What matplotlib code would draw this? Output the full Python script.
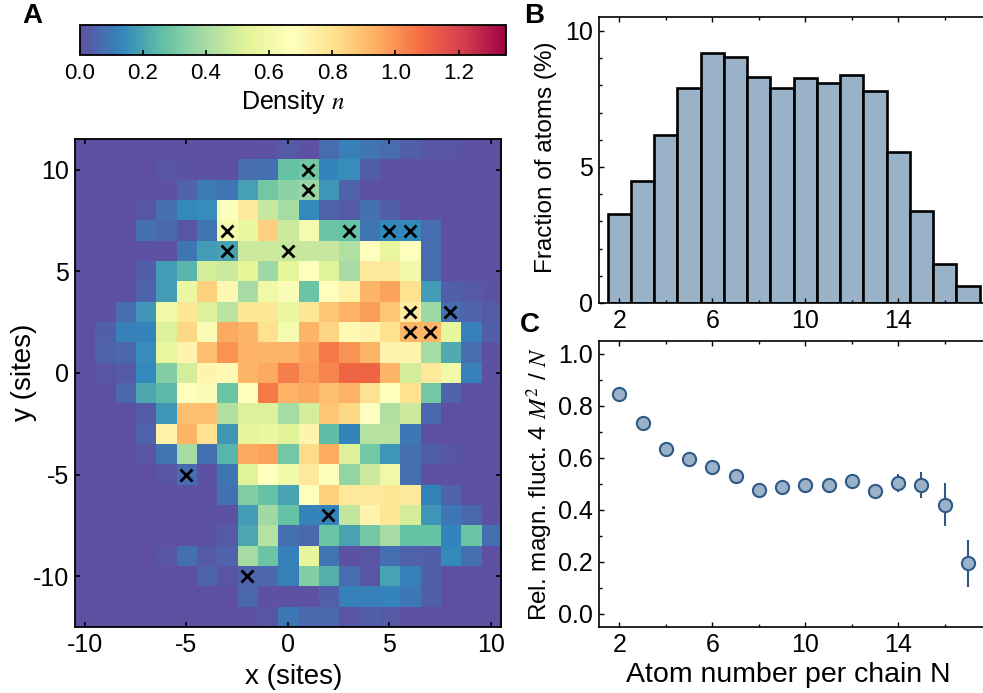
import numpy as np
import matplotlib
matplotlib.use("Agg")
import matplotlib.pyplot as plt
from matplotlib.ticker import MultipleLocator, FixedLocator

plt.rcParams['font.family'] = ['Liberation Sans', 'DejaVu Sans']
plt.rcParams['mathtext.fontset'] = 'stix'
plt.rcParams['axes.unicode_minus'] = False

# density per site, rows run from y=11 down to y=-12, columns x=-10..10
density = [
    [0, 0, 0, 0, 0, 0, 0, 0, 0, .01, .03, .01, .07, .12, .09, .07, .04, .02, .02, 0, 0],
    [0, 0, 0, 0, .02, .01, .01, .01, .07, .08, .27, .3, .13, .15, .04, .01, 0, 0, 0, 0, 0],
    [0, 0, 0, 0, .01, .05, .11, .09, .19, .3, .35, .37, .17, .05, .01, 0, 0, 0, 0, 0, 0],
    [0, 0, 0, .02, .08, .14, .15, .66, .77, .47, .4, .14, .05, .03, .08, .04, .01, .01, 0, 0, 0],
    [0, 0, 0, .08, .06, .02, .09, .62, .58, .85, .48, .62, .28, .27, .09, .14, .14, .07, 0, 0, 0],
    [0, 0, 0, .01, .01, .09, .18, .2, .48, .48, .47, .47, .47, .42, .68, .56, .68, .07, 0, 0, 0],
    [0, 0, 0, .04, .18, .24, .5, .48, .54, .38, .55, .68, .53, .4, .76, .77, .6, .07, 0, 0, 0],
    [0, 0, .01, .05, .18, .57, .85, .71, .4, .6, .65, .28, .68, .73, .92, .97, .8, .18, .04, .03, .01],
    [0, .01, .07, .17, .6, .78, .52, .44, .78, .78, .58, .78, .88, .93, .98, .88, .75, .38, .07, .05, .03],
    [0, .04, .12, .13, .52, .83, .64, .95, .92, .8, .62, .92, .84, .7, .72, .8, .92, .92, .55, .12, .04],
    [0, .05, .06, .15, .56, .72, .9, 1.0, .93, .92, .93, .97, 1.05, 1.0, .92, .72, .72, .4, .22, .07, .01],
    [0, .02, .03, .14, .33, .5, .72, .7, .92, .95, 1.04, .98, 1.03, 1.1, 1.1, .92, .5, .77, .6, .12, .01],
    [0, 0, .06, .21, .25, .68, .65, .28, .68, 1.05, .93, .95, .9, .93, .8, .68, .8, .3, .05, .01, 0],
    [0, 0, 0, .03, .17, .9, .9, .42, .52, .52, .4, .5, .88, .83, .67, .42, .48, .06, 0, 0, 0],
    [0, 0, 0, .05, .73, .93, .8, .17, .55, .58, .53, .72, .26, .13, .43, .43, .1, .01, 0, 0, 0],
    [0, 0, 0, .02, .09, .4, .08, .24, .95, .97, .3, .82, .94, .52, .3, .17, .08, .04, .02, 0, 0],
    [0, 0, 0, 0, .02, .07, .01, .09, .53, .68, .6, .77, .66, .36, .48, .6, .08, .01, .01, 0, 0],
    [0, 0, 0, 0, 0, .01, .01, .08, .33, .27, .2, .68, .85, .77, .77, .78, .77, .13, .05, 0, 0],
    [0, 0, 0, 0, 0, 0, .01, .01, .18, .39, .27, .13, .13, .46, .72, .78, .5, .17, .1, .06, .01],
    [0, 0, 0, 0, 0, 0, .01, .03, .21, .43, .08, .06, .28, .2, .3, .4, .27, .27, .13, .28, .08],
    [0, 0, 0, 0, .02, .08, .03, .05, .4, .28, .12, .55, .09, .01, .02, .08, .05, .04, .14, .08, 0],
    [0, 0, 0, 0, 0, 0, .05, .02, .05, .06, .12, .33, .23, .07, .02, .2, .12, .04, 0, 0, 0],
    [0, 0, 0, 0, 0, 0, 0, 0, .06, .01, .01, .01, .04, .12, .12, .13, .1, .04, 0, 0, 0],
    [0, 0, 0, 0, 0, 0, 0, 0, 0, .02, .1, .06, .06, .02, .04, .03, 0, 0, 0, 0, 0],
]
cross_x = [1, 1, -3, -3, 0, 3, 5, 6, 6, 8, 6, 7, -5, 2, -2]
cross_y = [10, 9, 7, 6, 6, 7, 7, 7, 3, 3, 2, 2, -5, -7, -10]

atoms = list(range(2, 18))
fraction = [3.28, 4.5, 6.17, 7.9, 9.19, 9.03, 8.32, 7.89, 8.27, 8.1, 8.38, 7.8, 5.55, 3.38, 1.45, 0.64]
fluct = [.846, .733, .635, .594, .565, .53, .476, .487, .495, .495, .51, .473, .504, .495, .42, .194]
fluct_err = [.004, .004, .004, .004, .004, .004, .004, .005, .005, .006, .008, .01, .035, .05, .082, .09]

W, H = 983, 693
BAR = '#9ab2c8'
DOT_EDGE = '#2f5a86'
FS = 18


def px_axes(left, top, right, bottom):
    return fig.add_axes([left / W, 1 - bottom / H, (right - left) / W, (bottom - top) / H])


def panel_letter(x, y, s):
    fig.text(x / W, 1 - y / H, s, fontsize=20, fontweight='bold', va='center', ha='left')


fig = plt.figure(figsize=(W / 100, H / 100), dpi=100)

# A: density map
ax = px_axes(74.5, 139, 501, 627)
im = ax.imshow(density, cmap='Spectral_r', vmin=0, vmax=1.35, interpolation='nearest',
               extent=[-10.5, 10.5, -12.5, 11.5], aspect='auto')
ax.plot(cross_x, cross_y, 'x', color='k', ms=9, mew=2)
ax.set_xticks([-10, -5, 0, 5, 10])
ax.set_yticks([-10, -5, 0, 5, 10])
ax.tick_params(direction='in', top=True, right=True, labelsize=FS, length=3.5, width=1.2, pad=4)
ax.set_xlabel('x (sites)', fontsize=20, labelpad=5)
ax.xaxis.label.set_x(0.5135)
ax.set_ylabel('y (sites)', fontsize=20, labelpad=-3)
ax.yaxis.label.set_y(0.5215)
for s in ax.spines.values():
    s.set_linewidth(1.3)

# colorbar
cax = px_axes(79.5, 25, 506, 54.5)
cb = fig.colorbar(im, cax=cax, orientation='horizontal')
cb.set_ticks([0, .2, .4, .6, .8, 1.0, 1.2])
cb.ax.tick_params(direction='in', labelsize=16, length=3.5, width=1.2, pad=6)
cb.set_label('Density $n$', fontsize=18, labelpad=3)
cb.outline.set_linewidth(1.3)

# B: histogram
bx = px_axes(598.5, 17, 983, 303)
bx.bar(atoms, fraction, width=1, color=BAR, edgecolor='k', linewidth=1.9)
bx.set_xlim(1.1, 17.65)
bx.set_ylim(0, 10.51)
bx.set_xticks([2, 6, 10, 14])
bx.xaxis.set_minor_locator(FixedLocator([4, 8, 12, 16]))
bx.set_yticks([0, 5, 10])
bx.yaxis.set_minor_locator(MultipleLocator(1))
bx.tick_params(which='both', direction='in', top=True, labelsize=FS, width=1)
bx.tick_params(which='major', length=3.5, pad=4)
bx.tick_params(which='minor', length=2)
bx.set_ylabel('Fraction of atoms (%)', fontsize=17.5, labelpad=6)
bx.yaxis.label.set_y(0.51)
bx.spines['right'].set_visible(False)
for k in ['left', 'top', 'bottom']:
    bx.spines[k].set_linewidth(1.2)

# C: fluctuations
ccx = px_axes(598.5, 341, 983, 627)
ccx.errorbar(atoms, fluct, yerr=fluct_err, fmt='o', ms=9.5, mfc=BAR, mec=DOT_EDGE, mew=1.5,
             ecolor=DOT_EDGE, elinewidth=1.5, capsize=0)
ccx.set_xlim(1.1, 17.65)
ccx.set_ylim(-0.051, 1.049)
ccx.set_xticks([2, 6, 10, 14])
ccx.xaxis.set_minor_locator(FixedLocator([4, 8, 12, 16]))
ccx.set_yticks([0, .2, .4, .6, .8, 1.0])
ccx.yaxis.set_minor_locator(MultipleLocator(.1))
ccx.tick_params(which='both', direction='in', top=True, labelsize=FS, width=1)
ccx.tick_params(which='major', length=3.5, pad=4)
ccx.tick_params(which='minor', length=2)
ccx.set_xlabel('Atom number per chain N', fontsize=20.5, labelpad=4)
ccx.xaxis.label.set_x(0.493)
ccx.set_ylabel('Rel. magn. fluct. 4 $M^2$ / $N$', fontsize=17.5, labelpad=2)
ccx.spines['right'].set_visible(False)
for k in ['left', 'top', 'bottom']:
    ccx.spines[k].set_linewidth(1.2)

panel_letter(22, 16, 'A')
panel_letter(524, 16, 'B')
panel_letter(520, 325, 'C')

fig.savefig('out.png', dpi=100)
